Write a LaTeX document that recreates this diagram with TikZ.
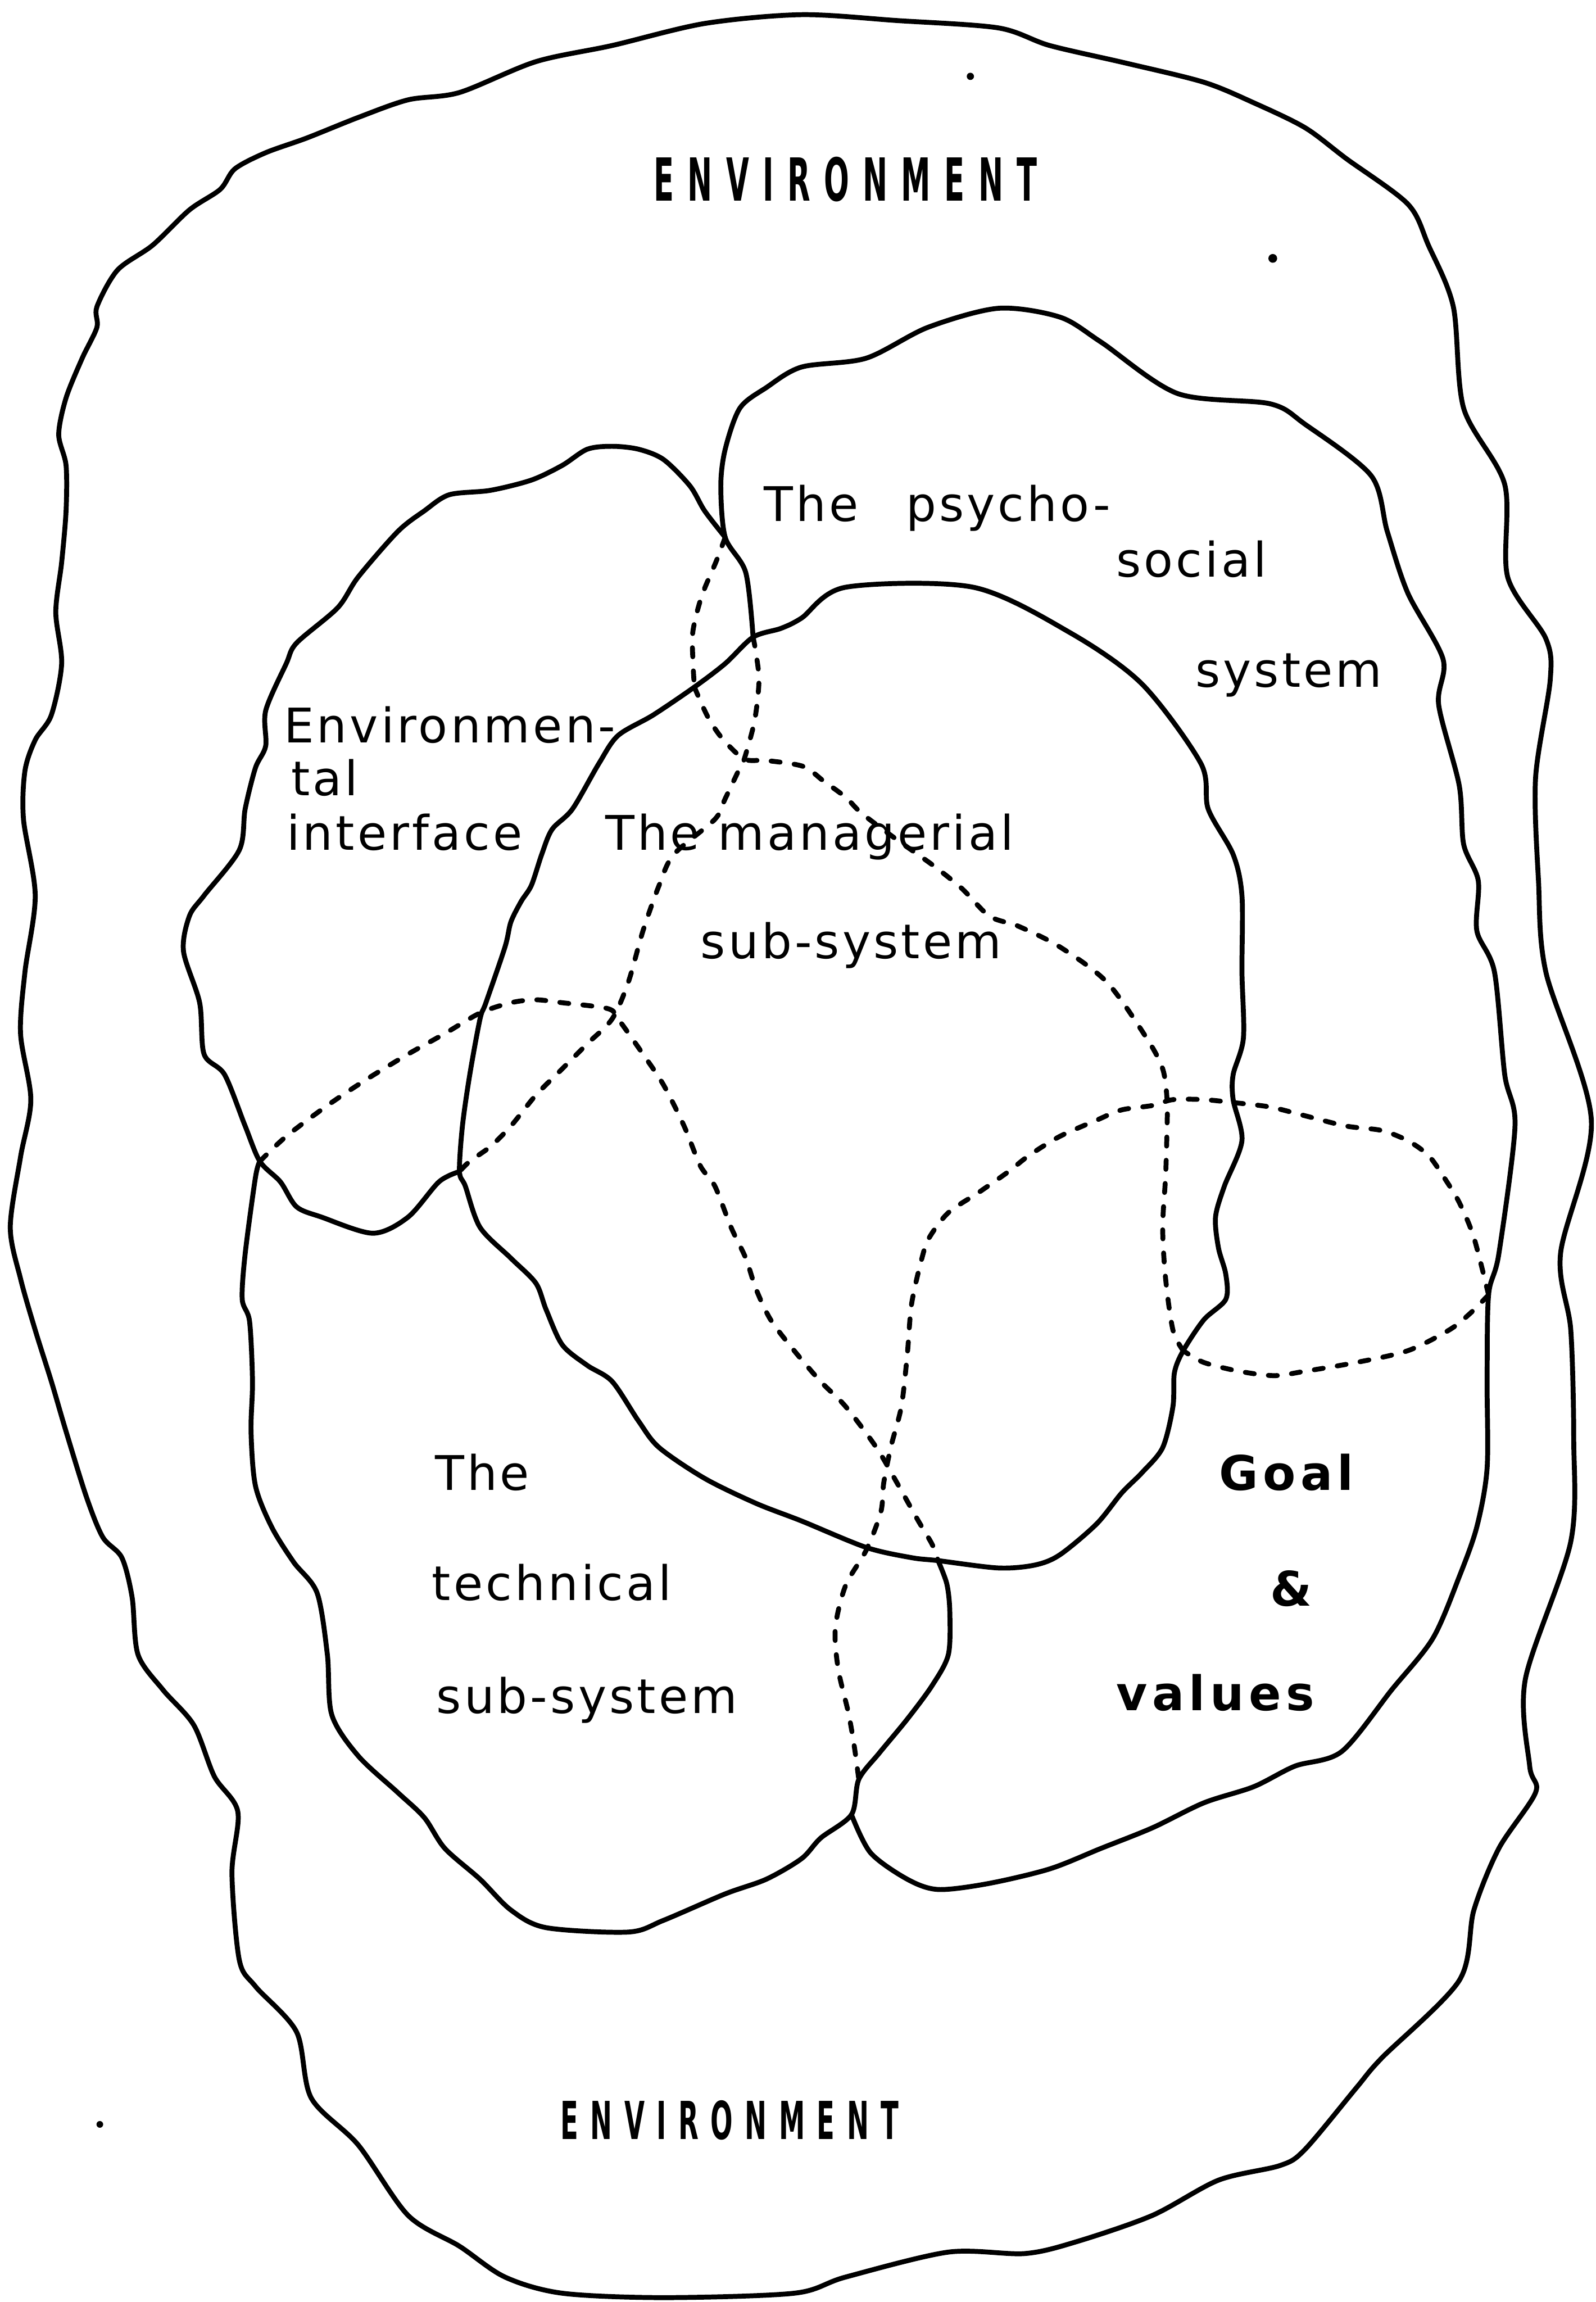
\documentclass[tikz,border=0pt]{standalone}
\usepackage{fontspec}
\newfontfamily\lblfont{DejaVu Sans}[LetterSpace=6]
\newfontfamily\goalfont{DejaVu Sans}[LetterSpace=10]
\newfontfamily\envfont{DejaVu Sans}[LetterSpace=46]
\usepackage{tikz}

\begin{document}
\begin{tikzpicture}[x=0.02cm, y=-0.02cm,
  solidedge/.style={line width=1.9pt, line cap=round, line join=round},
  hiddenedge/.style={solidedge, dash pattern=on 3.5pt off 5.5pt},
  lbl/.style={inner sep=0pt, anchor=base west, font=\lblfont\fontsize{18.5}{21}\selectfont},
  goallbl/.style={inner sep=0pt, anchor=base west, font=\goalfont\bfseries\fontsize{18.5}{21}\selectfont},
  envlbl/.style={inner sep=0pt, anchor=base, font=\envfont\bfseries}]

  \useasboundingbox (0,0) rectangle (1087,1568);

  \coordinate (jPE) at (494,366);
  \coordinate (jPM) at (513,434);
  \coordinate (jEM) at (473,468);
  \coordinate (jX) at (507,517);
  \coordinate (jEl) at (177,791);
  \coordinate (jEr) at (313,798);
  \coordinate (jPg) at (1014,882);
  \coordinate (jMr) at (806,920);
  \coordinate (jTr) at (639,1063);
  \coordinate (jGb) at (580,1236);
  \coordinate (jGl) at (585,1212);

  \draw[solidedge] plot[smooth cycle] coordinates {
    (546,10) (611,14) (680,19) (715,31) (767,43) (820,56) (854,70) (889,87) (917,108)
    (959,139) (973,167) (990,209) (997,278) (1025,330) (1027,393) (1053,435) (1056,463)
    (1046,530) (1048,600) (1053,662) (1084,763) (1063,854) (1070,906) (1072,980) (1070,1050)
    (1039,1144) (1042,1203) (1046,1221) (1021,1259) (1004,1301) (994,1349) (941,1402)
    (924,1422) (889,1464) (872,1475) (830,1485) (785,1509) (733,1527) (698,1535) (646,1534)
    (576,1551) (541,1562) (452,1565) (383,1562) (344,1551) (313,1530) (278,1509) (244,1461)
    (212,1429) (202,1384) (174,1353) (163,1335) (158,1276) (162,1234) (146,1210) (132,1175)
    (111,1151) (94,1127) (90,1088) (83,1061) (70,1047) (59,1020) (45,975) (35,941) (24,906)
    (14,871) (7,836) (14,788) (21,749) (14,704) (17,662) (24,610) (16,558) (17,525) (24,504)
    (35,487) (42,452) (38,417) (42,383) (45,348) (45,317) (40,296) (45,271) (56,244) (66,223)
    (66,209) (80,184) (104,167) (129,143) (150,129) (160,115) (181,104) (209,94) (244,80)
    (278,68) (313,63) (365,42) (417,31) (480,16)};

  \draw[solidedge] plot[smooth] coordinates {
    (jPM) (508,390) (jPE) (491,331) (494,306) (504,278) (522,264) (546,250) (590,244)
    (632,223) (680,210) (722,216) (750,233) (802,268) (865,275) (889,289) (934,324)
    (945,362) (959,404) (983,449) (980,480) (994,535) (997,575) (1007,600) (1006,634)
    (1018,662) (1025,732) (1032,767) (1021,854) (jPg) (1013,940) (1013,1000) (1006,1040)
    (994,1074) (976,1116) (948,1151) (914,1193) (882,1203) (854,1217) (820,1228) (785,1245)
    (750,1259) (715,1273) (673,1283) (639,1287) (618,1280) (593,1262) (jGb)};

  \draw[solidedge] plot[smooth] coordinates {
    (jPE) (480,348) (470,331) (452,313) (435,306) (417,304) (400,306) (383,317) (362,327)
    (334,334) (306,337) (289,348) (271,362) (244,393) (230,414) (202,438) (195,452)
    (181,484) (181,508) (174,523) (167,551) (163,579) (139,610) (129,624) (125,648)
    (136,683) (139,718) (153,732) (167,767) (jEl) (191,805) (202,822) (219,829) (254,840)
    (278,829) (299,805) (jEr)};

  \draw[solidedge] plot[smooth cycle] coordinates {
    (jEM) (445,487) (421,501) (408,520) (390,551) (376,565) (369,582) (362,603) (355,614)
    (348,628) (344,645) (331,683) (327,694) (320,732) (315,767) (jEr) (317,808) (327,836)
    (348,857) (365,874) (372,892) (383,916) (400,930) (417,941) (435,968) (449,986)
    (480,1007) (515,1024) (546,1036) (590,1054) (621,1061) (jTr) (680,1068) (705,1066)
    (722,1059) (747,1038) (764,1017) (778,1003) (792,986) (799,958) (800,935) (jMr)
    (820,899) (835,885) (835,868) (830,850) (828,829) (834,808) (846,777) (840,749)
    (840,732) (847,707) (846,662) (846,610) (840,582) (823,551) (818,520) (778,466)
    (729,431) (663,400) (576,400) (546,421) (532,428) (jPM) (494,452)};

  \draw[solidedge] plot[smooth] coordinates {
    (jTr) (645,1079) (647,1098) (646,1127) (635,1148) (618,1171) (599,1194) (jGl) (jGb)
    (559,1252) (546,1266) (522,1280) (494,1290) (452,1308) (428,1316) (372,1313) (348,1301)
    (327,1280) (303,1259) (289,1238) (271,1221) (244,1196) (226,1168) (223,1127) (216,1085)
    (200,1064) (185,1040) (174,1012) (171,975) (172,941) (170,900) (165,885) (167,854)
    (174,802) (jEl)};

  \draw[hiddenedge] plot[smooth] coordinates {
    (jPE) (488,382) (478,406) (472,430) (472,450) (jEM)};
  \draw[hiddenedge] plot[smooth] coordinates {
    (jEM) (482,488) (492,503) (jX) (522,518) (547,522) (561,532) (576,543) (587,554)
    (611,572) (635,589) (655,605) (674,624) (694,631) (722,645) (754,669) (781,707)
    (792,728) (795,749) (795,767) (794,801) (792,836) (794,871) (799,906) (jMr)};
  \draw[hiddenedge] plot[smooth] coordinates {
    (jPM) (515,445) (517,464) (514,491) (jX) (504,523) (494,544) (487,558) (459,582)
    (449,603) (438,634) (428,669) (417,694) (400,711) (383,728) (365,746) (348,767)
    (334,781) (320,791) (jEr)};
  \draw[hiddenedge] plot[smooth] coordinates {
    (jPg) (1001,895) (987,906) (959,920) (924,928) (889,934) (868,937) (844,934) (820,928)
    (jMr)};
  \draw[hiddenedge] plot[smooth] coordinates {
    (jPg) (1004,843) (994,819) (983,801) (973,787) (959,777) (941,770) (917,767) (889,760)
    (865,754) (840,751) (820,749) (799,749) (785,753) (764,756) (747,763) (722,774)
    (701,787) (687,798) (667,812) (646,826) (633,843) (628,857) (621,888) (618,923)
    (614,958) (607,985) (602,1010) (600,1030) (590,1056) (576,1080) (569,1109) (571,1137)
    (578,1167) (582,1190) (jGl)};
  \draw[hiddenedge] plot[smooth] coordinates {
    (jEl) (195,774) (223,753) (250,735) (278,718) (303,704) (327,690) (348,683) (365,681)
    (383,683) (414,687) (421,694) (438,718) (452,739) (466,767) (477,794) (487,808)
    (498,836) (508,857) (515,878) (525,899) (541,920) (559,941) (576,958) (597,986)
    (611,1010) (625,1035) (635,1052) (jTr)};

  \fill (661,52) circle (1.4pt);
  \fill (867,176) circle (1.7pt);
  \fill (68,1447) circle (1.3pt);

  \node[envlbl] (envTop) at (576,137) {\scalebox{0.5}[1]{\fontsize{23}{25}\selectfont ENVIRONMENT}};
  \node[envlbl] (envBot) at (497,1457) {\scalebox{0.5}[1]{\fontsize{20.3}{22}\selectfont ENVIRONMENT}};

  \node[lbl] (psyA) at (520,355) {The\quad psycho-};
  \node[lbl] (psyB) at (760,393) {social};
  \node[lbl] (psyC) at (814,468) {system};

  \node[lbl] (ifaceA) at (193,506) {Environmen-};
  \node[lbl] (ifaceB) at (198,542) {tal};
  \node[lbl] (ifaceC) at (195,579) {interface};

  \node[lbl] (mgrA) at (412,579) {The managerial};
  \node[lbl] (mgrB) at (477,653) {sub-system};

  \node[lbl] (techA) at (296,1015) {The};
  \node[lbl] (techB) at (294,1090) {technical};
  \node[lbl] (techC) at (297,1167) {sub-system};

  \node[goallbl] (goalA) at (830,1015) {Goal};
  \node[goallbl] (goalB) at (865,1094) {\&};
  \node[goallbl] (goalC) at (760,1165) {values};
\end{tikzpicture}
\end{document}
